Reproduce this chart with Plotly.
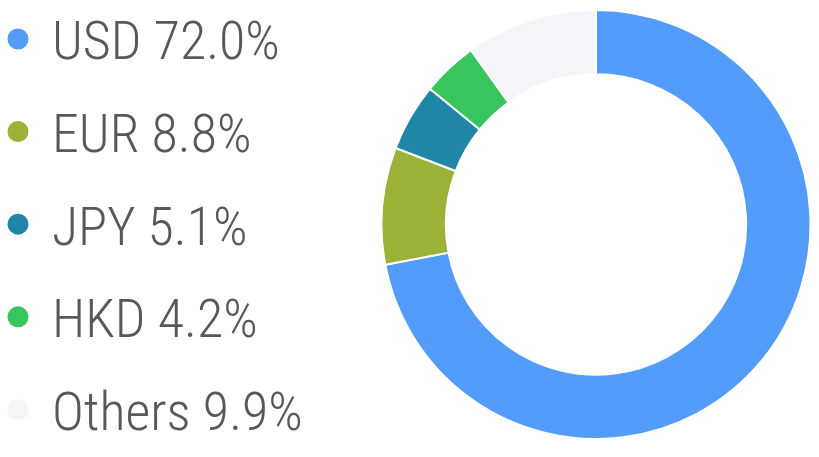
import plotly.graph_objects as go

currencies = ["USD", "EUR", "JPY", "HKD", "Others"]
shares = [72.0, 8.8, 5.1, 4.2, 9.9]
colors = ["#539CFA", "#9AB235", "#1F86A7", "#38C55D", "#F3F5F9"]
legend_text = [f"{c} {v:.1f}%" for c, v in zip(currencies, shares)]

W, H = 819, 457
fig = go.Figure()

fig.add_trace(go.Pie(
    labels=currencies, values=shares, sort=False, direction="clockwise", rotation=0,
    hole=0.70, marker=dict(colors=colors, line=dict(color="white", width=2)),
    textinfo="none", hoverinfo="label+percent", showlegend=False,
    domain=dict(x=[381.5 / W, 810.5 / W], y=[(H - 439.5) / H, (H - 9.5) / H]),
))

fig.add_trace(go.Scatter(
    x=[0] * len(currencies), y=currencies, mode="markers",
    marker=dict(color=colors, size=21, line=dict(width=0)),
    showlegend=False, hoverinfo="skip", xaxis="x", yaxis="y",
))

for lbl, txt in zip(currencies, legend_text):
    fig.add_annotation(x=1, y=lbl, xref="x", yref="y", xanchor="left", yanchor="middle",
                       text=txt, showarrow=False, xshift=-5, yshift=-2,
                       font=dict(family="Roboto Condensed", size=54, color="#58585A", weight=300))

fig.update_layout(
    width=W, height=H, margin=dict(l=0, r=0, t=0, b=0),
    paper_bgcolor="white", plot_bgcolor="white",
    xaxis=dict(visible=False, range=[-18 / 37, (W - 18) / 37], domain=[0, 1], fixedrange=True),
    yaxis=dict(visible=False, type="category", categoryorder="array", categoryarray=currencies,
               range=[4.514, -0.421], domain=[0, 1], fixedrange=True),
)

fig.write_html("out.html")
